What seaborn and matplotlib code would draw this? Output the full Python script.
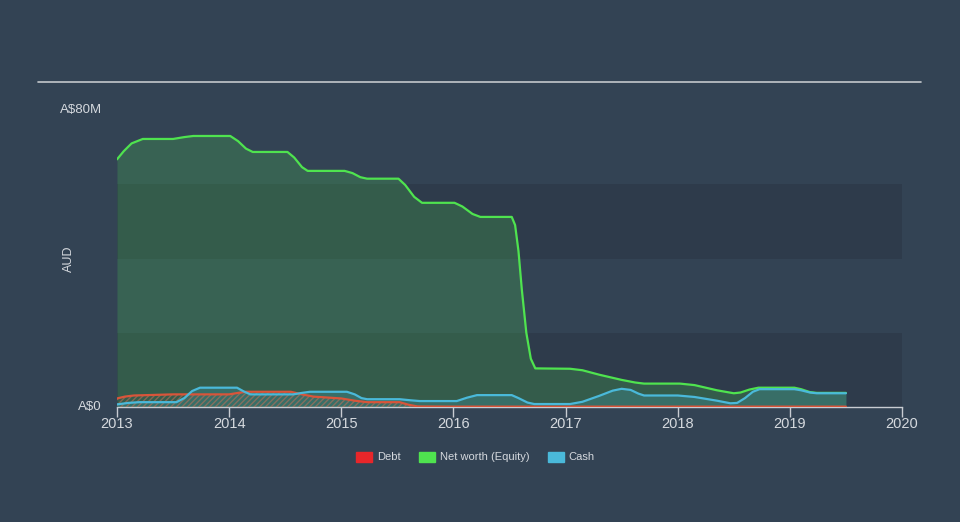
import numpy as np
import pandas as pd
import matplotlib
matplotlib.use("Agg")
import matplotlib.pyplot as plt
from matplotlib.patches import Patch
import seaborn as sns

# ---- data (A$ millions) ----
nw_year = [2013.0, 2013.06, 2013.13, 2013.23, 2013.5, 2013.6, 2013.68, 2014.01, 2014.08, 2014.15,
           2014.21, 2014.52, 2014.58, 2014.65, 2014.70, 2015.03, 2015.1, 2015.17, 2015.23, 2015.51,
           2015.57, 2015.65, 2015.72, 2016.01, 2016.08, 2016.17, 2016.24, 2016.52, 2016.55, 2016.58,
           2016.61, 2016.65, 2016.69, 2016.73, 2017.04, 2017.15, 2017.3, 2017.5, 2017.62, 2017.7,
           2018.02, 2018.15, 2018.35, 2018.5, 2018.56, 2018.64, 2018.72, 2019.04, 2019.1, 2019.18,
           2019.24, 2019.5]
nw_val = [66.7, 68.9, 71.0, 72.2, 72.2, 72.7, 73.0, 73.0, 71.6, 69.6,
          68.7, 68.7, 67.2, 64.6, 63.6, 63.6, 63.0, 61.9, 61.5, 61.5,
          59.8, 56.6, 55.0, 55.0, 54.0, 52.0, 51.2, 51.2, 49.0, 42.0,
          31.6, 20.0, 13.0, 10.4, 10.3, 9.9, 8.7, 7.3, 6.6, 6.3,
          6.3, 5.9, 4.5, 3.7, 3.9, 4.7, 5.2, 5.2, 4.8, 4.0,
          3.8, 3.8]

cash_year = [2013.0, 2013.1, 2013.2, 2013.53, 2013.6, 2013.67, 2013.74, 2014.07, 2014.13, 2014.19,
             2014.57, 2014.65, 2014.72, 2015.05, 2015.12, 2015.18, 2015.23, 2015.52, 2015.62, 2015.7,
             2016.03, 2016.12, 2016.21, 2016.52, 2016.58, 2016.66, 2016.72, 2017.04, 2017.15, 2017.3,
             2017.42, 2017.5, 2017.58, 2017.65, 2017.7, 2018.0, 2018.15, 2018.35, 2018.47, 2018.53,
             2018.6, 2018.67, 2018.73, 2019.04, 2019.1, 2019.18, 2019.24, 2019.5]
cash_val = [0.7, 1.1, 1.3, 1.3, 2.4, 4.3, 5.2, 5.2, 4.2, 3.4,
            3.4, 3.8, 4.1, 4.1, 3.4, 2.4, 2.1, 2.1, 1.8, 1.6,
            1.6, 2.5, 3.2, 3.2, 2.4, 1.2, 0.8, 0.8, 1.4, 3.0,
            4.4, 4.9, 4.6, 3.6, 3.1, 3.1, 2.7, 1.7, 1.0, 1.1,
            2.4, 4.1, 4.8, 4.8, 4.5, 3.9, 3.7, 3.7]

debt_year = [2013.0, 2013.07, 2013.15, 2013.5, 2014.0, 2014.08, 2014.15, 2014.55, 2014.65, 2014.75,
             2015.0, 2015.12, 2015.23, 2015.52, 2015.6, 2015.68, 2016.0, 2019.5]
debt_val = [2.3, 2.8, 3.1, 3.4, 3.4, 3.8, 4.1, 4.1, 3.4, 2.8,
            2.3, 1.7, 1.3, 1.3, 0.6, 0.15, 0.1, 0.1]

x_ticks = [2013, 2014, 2015, 2016, 2017, 2018, 2019, 2020]
y_ticks = [0, 80]
y_tick_labels = ["A$0", "A$80M"]

BG = "#334354"
BAND = "#2e3b4b"
GREEN = "#4fe34f"
BLUE = "#4ab9da"
RED = "#e8262a"
DEBT_LINE = "#d9553a"
TXT = "#d5d9de"

sns.set_theme(style="dark")
plt.rcParams["font.family"] = ["Liberation Sans", "DejaVu Sans"]

fig = plt.figure(figsize=(9.6, 5.22), dpi=100, facecolor=BG)
ax = fig.add_axes([117 / 960, 1 - 407 / 522, (902 - 117) / 960, (407 - 110) / 522])
ax.set_facecolor(BG)

# alternating background bands
for lo, hi in [(0, 20), (40, 60)]:
    ax.axhspan(lo, hi, color=BAND, zorder=0, lw=0)

nw = pd.DataFrame({"year": nw_year, "value": nw_val})
cash = pd.DataFrame({"year": cash_year, "value": cash_val})
debt = pd.DataFrame({"year": debt_year, "value": debt_val})

ax.fill_between(nw["year"], 0, nw["value"], color=GREEN, alpha=0.2, lw=0, zorder=1)
ax.fill_between(cash["year"], 0, cash["value"], color=BLUE, alpha=0.2, lw=0, zorder=2)
ax.fill_between(debt["year"], 0, debt["value"], facecolor="none", edgecolor="#b8705a",
                hatch="//////", lw=0, alpha=0.6, zorder=3)

sns.lineplot(data=nw, x="year", y="value", color=GREEN, lw=1.6, ax=ax, zorder=5)
sns.lineplot(data=debt, x="year", y="value", color=DEBT_LINE, lw=1.6, ax=ax, zorder=4)
sns.lineplot(data=cash, x="year", y="value", color=BLUE, lw=1.6, ax=ax, zorder=6)

ax.set_xlim(2013, 2020)
ax.set_ylim(0, 80)
ax.set_xticks(x_ticks)
ax.set_xticklabels([str(t) for t in x_ticks], color=TXT, fontsize=10.5)
ax.set_yticks(y_ticks)
ax.set_yticklabels(y_tick_labels, color=TXT, fontsize=9.5)
ax.tick_params(axis="x", length=7, width=1, color="#c8ccd2", pad=0, direction="out", bottom=True)
ax.tick_params(axis="y", length=0, pad=11)
for lab in ax.get_yticklabels():
    lab.set_verticalalignment("center")

ax.set_xlabel("")
ax.set_ylabel("AUD", color=TXT, fontsize=9)
ax.yaxis.set_label_coords(-0.054, 0.5)
ax.grid(False)
for s in ["top", "right", "left"]:
    ax.spines[s].set_visible(False)
ax.spines["bottom"].set_color("#c8ccd2")
ax.spines["bottom"].set_linewidth(1)

# top rule
fig.add_artist(plt.Line2D([38 / 960, 921 / 960], [1 - 82 / 522, 1 - 82 / 522],
                          color="#c4c8cc", lw=1.2))

handles = [Patch(color=RED, label="Debt"), Patch(color=GREEN, label="Net worth (Equity)"),
           Patch(color=BLUE, label="Cash")]
leg = fig.legend(handles=handles, loc="center", bbox_to_anchor=(475.5 / 960, 1 - 457 / 522),
                 ncol=3, frameon=False, fontsize=8, handlelength=1.4, handleheight=1.0,
                 columnspacing=1.7, handletextpad=0.45)
for t in leg.get_texts():
    t.set_color(TXT)

fig.savefig("out.png", dpi=100, facecolor=BG)
